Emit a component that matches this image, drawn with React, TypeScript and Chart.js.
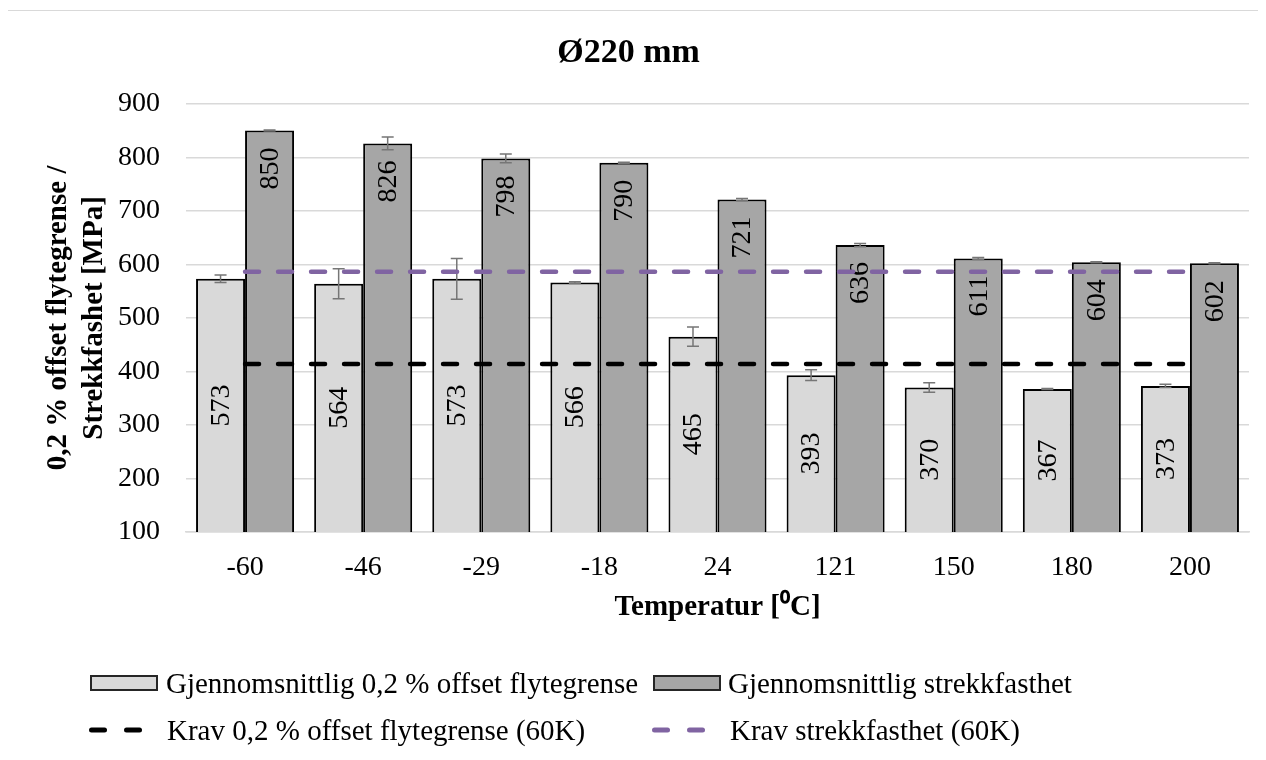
import React, { useEffect, useRef } from 'react';
import { Chart, registerables } from 'chart.js';

Chart.register(...registerables);

const FONT = "'Liberation Serif', 'Times New Roman', serif";

// ---- data ----
const categories = ['-60', '-46', '-29', '-18', '24', '121', '150', '180', '200'];
const yieldAvg = [573, 564, 573, 566, 465, 393, 370, 367, 373];
const yieldErr = [7, 28, 38, 1.5, 18, 10, 9, 1, 3];
const tensileAvg = [850, 826, 798, 790, 721, 636, 611, 604, 602];
const tensileErr = [1, 12, 8, 1, 2, 3, 2, 1, 1];
const yieldReq = [414, 414, 414, 414, 414, 414, 414, 414, 414];
const tensileReq = [586, 586, 586, 586, 586, 586, 586, 586, 586];
const yMin = 100;
const yMax = 900;
const yStep = 100;

const titleText = 'Ø220 mm';
const xTitle = 'Temperatur [⁰C]';
const yTitle = ['0,2 % offset flytegrense /', 'Strekkfashet [MPa]'];
const seriesNames = [
  'Gjennomsnittlig 0,2 % offset flytegrense',
  'Gjennomsnittlig strekkfasthet',
  'Krav 0,2 % offset flytegrense (60K)',
  'Krav strekkfasthet (60K)',
];
const errorsByDataset = [yieldErr, tensileErr];

const LIGHT = '#d9d9d9';
const DARK = '#a6a6a6';
const PURPLE = '#8064a2';

const barExtras = {
  id: 'barExtras',
  afterDatasetDraw(chart: any, args: any) {
    const i = args.index;
    if (i > 1) return;
    const meta = chart.getDatasetMeta(i);
    const ds = chart.data.datasets[i];
    const errs = errorsByDataset[i];
    const ys = chart.scales.y;
    const ctx = chart.ctx;
    const bottom = chart.chartArea.bottom;
    ctx.save();
    ctx.strokeStyle = '#767676';
    ctx.lineWidth = 1.5;
    meta.data.forEach((bar: any, j: number) => {
      const v = ds.data[j];
      const e = errs[j];
      const yt = ys.getPixelForValue(v + e);
      const yb = ys.getPixelForValue(v - e);
      const x = bar.x;
      ctx.beginPath();
      ctx.moveTo(x, yt);
      ctx.lineTo(x, yb);
      ctx.moveTo(x - 6, yt);
      ctx.lineTo(x + 6, yt);
      ctx.moveTo(x - 6, yb);
      ctx.lineTo(x + 6, yb);
      ctx.stroke();
    });
    ctx.fillStyle = '#000';
    ctx.font = `28px ${FONT}`;
    ctx.textBaseline = 'middle';
    meta.data.forEach((bar: any, j: number) => {
      ctx.save();
      if (i === 0) {
        const base = Math.min(bar.base, bottom);
        ctx.translate(bar.x, (bar.y + base) / 2);
        ctx.rotate(-Math.PI / 2);
        ctx.textAlign = 'center';
      } else {
        ctx.translate(bar.x, bar.y + 17);
        ctx.rotate(-Math.PI / 2);
        ctx.textAlign = 'right';
      }
      ctx.fillText(String(ds.data[j]), 0, 1);
      ctx.restore();
    });
    ctx.restore();
  },
};

function LegendBox({ left, top, color }: { left: number; top: number; color: string }) {
  return (
    <div
      style={{
        position: 'absolute',
        left,
        top,
        width: 68,
        height: 16,
        boxSizing: 'border-box',
        background: color,
        border: '2px solid #262626',
      }}
    />
  );
}

function LegendDash({ left, top, color }: { left: number; top: number; color: string }) {
  return (
    <svg style={{ position: 'absolute', left, top }} width={56} height={6}>
      <rect x={1} y={0.5} width={18} height={5} rx={2.5} fill={color} />
      <rect x={36} y={0.5} width={18} height={5} rx={2.5} fill={color} />
    </svg>
  );
}

function LegendText({ left, centerY, text }: { left: number; centerY: number; text: string }) {
  return (
    <div
      style={{
        position: 'absolute',
        left,
        top: centerY - 20,
        height: 40,
        lineHeight: '40px',
        fontFamily: FONT,
        fontSize: 29,
        color: '#000',
        whiteSpace: 'nowrap',
      }}
    >
      {text}
    </div>
  );
}

export default function App() {
  const canvasRef = useRef<HTMLCanvasElement | null>(null);

  useEffect(() => {
    if (!canvasRef.current) return;
    Chart.defaults.font.family = FONT;
    const chart = new Chart(canvasRef.current, {
      type: 'bar',
      data: {
        labels: categories,
        datasets: [
          {
            type: 'bar',
            label: seriesNames[0],
            data: yieldAvg,
            backgroundColor: LIGHT,
            borderColor: '#000',
            borderWidth: 2,
            borderSkipped: false,
            barPercentage: 1,
            categoryPercentage: 0.83,
            order: 2,
          },
          {
            type: 'bar',
            label: seriesNames[1],
            data: tensileAvg,
            backgroundColor: DARK,
            borderColor: '#000',
            borderWidth: 2,
            borderSkipped: false,
            barPercentage: 1,
            categoryPercentage: 0.83,
            order: 2,
          },
          {
            type: 'line',
            label: seriesNames[2],
            data: yieldReq,
            borderColor: '#000',
            borderWidth: 4.5,
            borderDash: [14, 19],
            borderCapStyle: 'round',
            pointRadius: 0,
            fill: false,
            order: 1,
          },
          {
            type: 'line',
            label: seriesNames[3],
            data: tensileReq,
            borderColor: PURPLE,
            borderWidth: 4.5,
            borderDash: [14, 19],
            borderCapStyle: 'round',
            pointRadius: 0,
            fill: false,
            order: 1,
          },
        ] as any,
      },
      options: {
        responsive: false,
        animation: false,
        layout: { padding: { left: 0, right: 17, top: 0, bottom: 127 } },
        plugins: {
          legend: { display: false },
          tooltip: { enabled: false },
          title: {
            display: true,
            text: titleText,
            color: '#000',
            font: { size: 34, weight: 'bold', family: FONT },
            padding: { top: 25, bottom: 30 },
          },
        },
        scales: {
          x: {
            grid: { display: false, drawTicks: false },
            border: { display: true, color: '#d9d9d9', width: 1.5 },
            ticks: { color: '#000', font: { size: 28, family: FONT }, padding: 19 },
            title: {
              display: true,
              text: xTitle,
              color: '#000',
              font: { size: 29, weight: 'bold', family: FONT },
              padding: { top: 0, bottom: 0 },
            },
            afterFit: (s: any) => {
              s.height = 93;
            },
          },
          y: {
            min: yMin,
            max: yMax,
            ticks: { stepSize: yStep, color: '#000', font: { size: 28, family: FONT }, padding: 26 },
            grid: { color: '#d9d9d9', lineWidth: 1.5, drawTicks: false },
            border: { display: false },
            title: {
              display: true,
              text: yTitle,
              color: '#000',
              font: { size: 29, weight: 'bold', family: FONT, lineHeight: 1.25 },
              padding: { top: 32, bottom: 0 },
            },
            afterFit: (s: any) => {
              s.width = 178;
            },
          },
        },
      } as any,
      plugins: [barExtras],
    });
    return () => chart.destroy();
  }, []);

  return (
    <div style={{ position: 'relative', width: 1258, height: 744, overflow: 'hidden', background: '#fff' }}>
      <div
        style={{
          position: 'absolute',
          left: -1,
          top: 2,
          width: 1300,
          height: 800,
          border: '1px solid #d9d9d9',
          boxSizing: 'border-box',
        }}
      />
      <canvas
        ref={canvasRef}
        width={1258}
        height={744}
        style={{ position: 'absolute', left: 0, top: 0, width: 1258, height: 744 }}
      />
      <LegendBox left={82} top={667} color={LIGHT} />
      <LegendText left={158} centerY={675} text={seriesNames[0]} />
      <LegendBox left={645} top={667} color={DARK} />
      <LegendText left={720} centerY={675} text={seriesNames[1]} />
      <LegendDash left={80} top={719} color="#000" />
      <LegendText left={159} centerY={722} text={seriesNames[2]} />
      <LegendDash left={643} top={719} color={PURPLE} />
      <LegendText left={722} centerY={722} text={seriesNames[3]} />
    </div>
  );
}
